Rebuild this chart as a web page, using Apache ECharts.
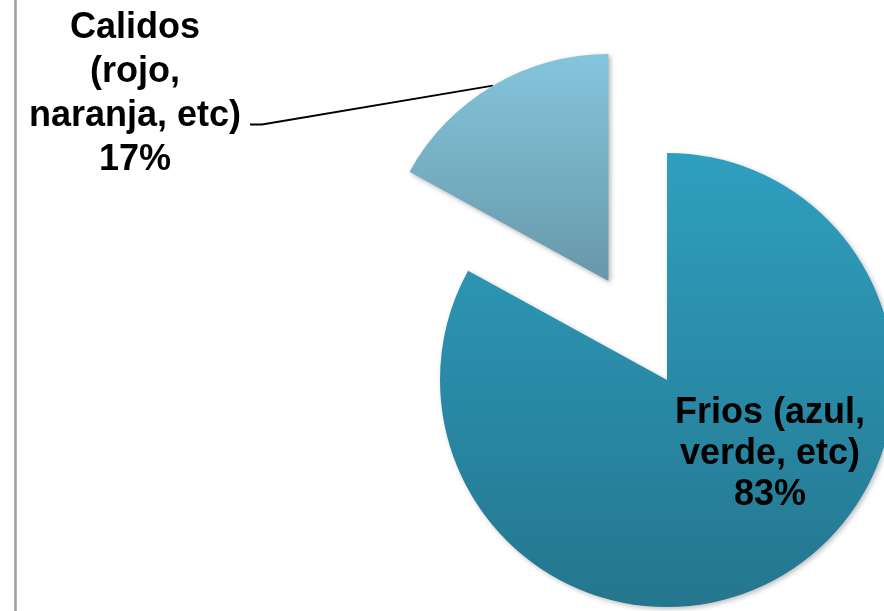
<!DOCTYPE html>
<html>
<head>
<meta charset="utf-8">
<script src="https://cdn.jsdelivr.net/npm/echarts@6/dist/echarts.min.js"></script>
<style>
  html, body { margin: 0; padding: 0; background: #fff; }
  #chart { width: 884px; height: 611px; }
</style>
</head>
<body>
<div id="chart"></div>
<script>
// ---- data ----
const categories = ['Frios (azul,\nverde, etc)', 'Calidos\n(rojo,\nnaranja, etc)'];
const values = [83, 17];
const percentLabels = ['83%', '17%'];

// ---- layout / style ----
const cx = 667, cy = 380, R = 227;
const explodeOffset = 115;   // px the small slice is pulled out
const total = values.reduce((a, b) => a + b, 0);
const midAngle = (values[0] + values[1] / 2) / total * 2 * Math.PI; // clockwise from 12 o'clock
const cx2 = cx + explodeOffset * Math.sin(midAngle);
const cy2 = cy - explodeOffset * Math.cos(midAngle);

const FONT = '"Liberation Sans", Arial, sans-serif';

const friosColor = new echarts.graphic.LinearGradient(0, 0, 0, 1, [
  { offset: 0, color: '#2F9FC0' },
  { offset: 1, color: '#24768E' }
]);
const calidosColor = new echarts.graphic.LinearGradient(0, 0, 0, 1, [
  { offset: 0, color: '#84C5DD' },
  { offset: 1, color: '#6898A9' }
]);
const hidden = {
  itemStyle: { color: 'rgba(0,0,0,0)', shadowBlur: 0 },
  label: { show: false },
  labelLine: { show: false },
  emphasis: { disabled: true }
};
const baseLabel = {
  fontFamily: FONT, fontWeight: 'bold', fontSize: 36, color: '#000',
  align: 'center'
};

const chart = echarts.init(document.getElementById('chart'), null, { renderer: 'canvas' });
chart.setOption({
  backgroundColor: '#fff',
  animation: false,
  graphic: [{
    type: 'line',
    shape: { x1: 15.5, y1: 0, x2: 15.5, y2: 611 },
    style: { stroke: '#9c9c9c', lineWidth: 2.5 },
    silent: true
  }],
  series: [
    {
      // main (Frios) slice
      type: 'pie',
      center: [cx, cy],
      radius: R,
      startAngle: 90,
      clockwise: true,
      silent: true,
      itemStyle: { shadowBlur: 5, shadowOffsetX: 2, shadowOffsetY: 2, shadowColor: 'rgba(0,0,0,0.25)' },
      label: { show: true, position: 'inside' },
      labelLine: { show: false },
      labelLayout: { x: 770, y: 454, align: 'center', verticalAlign: 'middle' },
      data: [
        {
          name: categories[0], value: values[0],
          itemStyle: { color: friosColor },
          label: Object.assign({}, baseLabel, {
            formatter: categories[0] + '\n' + percentLabels[0],
            lineHeight: 41
          })
        },
        Object.assign({ name: categories[1], value: values[1] }, hidden)
      ]
    },
    {
      // exploded (Calidos) slice
      type: 'pie',
      center: [cx2, cy2],
      radius: R,
      startAngle: 90,
      clockwise: true,
      silent: true,
      itemStyle: { shadowBlur: 5, shadowOffsetX: 2, shadowOffsetY: 2, shadowColor: 'rgba(0,0,0,0.3)' },
      label: { show: true, position: 'outside' },
      labelLine: { show: true, length: 10, length2: 12, smooth: false, lineStyle: { color: '#000', width: 2 } },
      labelLayout: { x: 135, y: 6, align: 'center', verticalAlign: 'top' },
      data: [
        Object.assign({ name: categories[0], value: values[0] }, hidden),
        {
          name: categories[1], value: values[1],
          itemStyle: { color: calidosColor },
          label: Object.assign({}, baseLabel, {
            formatter: '{t|' + categories[1] + '\n' + percentLabels[1] + '}\n{s| }',
            rich: {
              t: { fontFamily: FONT, fontWeight: 'bold', fontSize: 36, color: '#000', lineHeight: 44, align: 'center' },
              s: { fontSize: 10, lineHeight: 104, width: 230, align: 'center' }
            }
          }),
          labelLine: { show: true, lineStyle: { color: '#000', width: 2 } }
        }
      ]
    }
  ]
});
</script>
</body>
</html>
